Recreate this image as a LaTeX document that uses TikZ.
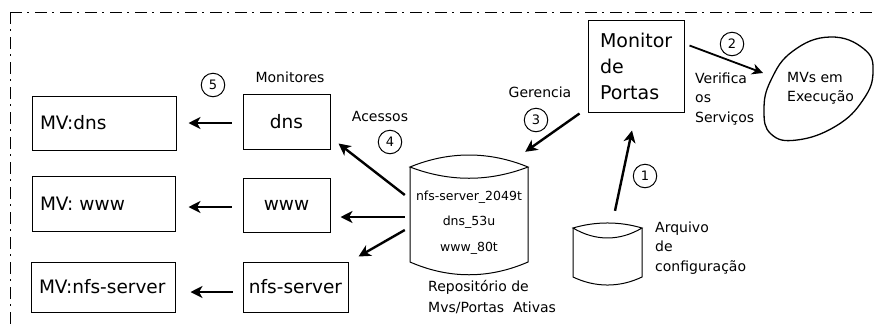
\documentclass[tikz,border=0pt]{standalone}
\usepackage{fontspec}
\setmainfont{DejaVu Sans}
\usetikzlibrary{arrows.meta,calc,shapes.geometric}

\begin{document}
\begin{tikzpicture}[x=1pt,y=-1pt,
  box/.style={draw, line width=1pt, inner sep=0pt},
  big/.style={font=\fontsize{18.5}{22}\selectfont},
  lbl/.style={font=\fontsize{14}{19.5}\selectfont, inner sep=0pt},
  link/.style={line width=2.4pt, -{Stealth[length=12pt,width=12pt,inset=3.5pt]}},
  thinlink/.style={line width=1.8pt, -{Stealth[length=11pt,width=11pt,inset=3.5pt]}},
  num/.style={draw, circle, line width=1pt, minimum size=23.5pt,
              inner sep=0pt, font=\fontsize{13}{15}\selectfont},
  cyl/.style={line width=1pt},
  frame/.style={line width=1pt, dash pattern=on 12pt off 5pt on 2pt off 6pt}
]
\useasboundingbox (0,0) rectangle (874,325);

% outer dash-dotted frame
\draw[frame] (10,12) -- (880,12);
\draw[frame] (10,12) -- (10,330);

% virtual machines
\node (mvdns) [box, big, minimum height=54, text width=128, inner xsep=8] at (104,123) {MV:dns};
\node (mvwww) [box, big, minimum height=55, text width=127, inner xsep=8] at (103.5,203.5) {MV: www};
\node (mvnfs) [box, big, minimum height=50, text width=128, inner xsep=8] at (103,287) {MV:nfs-server};

% monitors
\node (dns) [box, big, minimum width=87, minimum height=55] at (286.5,121.5) {dns};
\node (www) [box, big, minimum width=87, minimum height=54] at (286.5,205) {www};
\node (nfs) [box, big, minimum width=105, minimum height=50] at (295.5,287) {nfs-server};
\node (monlbl) [lbl] at (290,77) {Monitores};

% port monitor
\node (mon) [box, font=\fontsize{19}{26}\selectfont, minimum height=92, text width=72,
             inner xsep=12, align=left] at (636,66) {Monitor\\de\\Portas};

% running VMs (blob)
\node (mvs) [lbl, anchor=west, align=left] at (787,88) {MVs em\\Execução};
\draw[line width=1.3pt] plot[smooth cycle, tension=0.75] coordinates
  {(830,37) (864,49) (873,72) (863,100) (836,126) (797,140) (771,134) (764,110) (771,80) (793,51)};

% repository of active ports
\node (repo) [minimum width=118, minimum height=120, inner sep=0pt] at (469,215) {};
\begin{scope}[shift={(repo.center)}]
  \draw[cyl] (-59,-48) .. controls (-20,-64) and (20,-64) .. (59,-48)
             .. controls (20,-33) and (-20,-33) .. (-59,-48) -- cycle;
  \draw[cyl] (-59,-48) -- (-59,47) .. controls (-20,64) and (20,64) .. (59,47) -- (59,-48);
\end{scope}
\node (ports) [font=\fontsize{12.5}{25.5}\selectfont, align=center, inner sep=0pt]
  at (469,222.5) {nfs-server\_2049t\\dns\_53u\\www\_80t};
\node (repolbl) [lbl, anchor=west, align=left, font=\fontsize{14}{21}\selectfont]
  at (428,297.5) {Repositório de\\Mvs/Portas\ \ Ativas};

% configuration file
\node (arq) [minimum width=69, minimum height=62, inner sep=0pt] at (607.5,254) {};
\begin{scope}[shift={(arq.center)}]
  \draw[cyl] (-34.5,-26) .. controls (-12,-32.7) and (12,-32.7) .. (34.5,-26)
             .. controls (12,-12.7) and (-12,-12.7) .. (-34.5,-26) -- cycle;
  \draw[cyl] (-34.5,-26) -- (-34.5,23) .. controls (-12,33.7) and (12,33.7) .. (34.5,23) -- (34.5,-26);
\end{scope}
\node (arqlbl) [lbl, anchor=west, align=left] at (655,248) {Arquivo\\de\\configuração};

% connector labels
\node (verif) [lbl, anchor=west, align=left] at (695,99) {Verifica\\os\\Serviços};
\node (ger) [lbl] at (540,92) {Gerencia};
\node (ace) [lbl] at (380,116) {Acessos};

% step numbers
\node (n1) [num] at (645,176) {1};
\node (n2) [num] at (732,44) {2};
\node (n3) [num] at (536,120) {3};
\node (n4) [num] at (390,142) {4};
\node (n5) [num] at (213,85) {5};

% connectors
\draw[link] ($(arq.north)+(7.5,-12)$) -- ($(mon.south)+(-4,18)$);
\draw[thinlink] ($(mon.north east)+(5,26)$) -- ($(mvs.west)+(-24,-15)$);
\draw[link] ($(mon.south west)+(-8,1)$) -- ($(repo.north east)+(-3,-3)$);
\draw[link] ($(repo.west)+(-5,-20)$) -- ($(dns.south east)+(8,-6)$);
\draw[link] ($(repo.west)+(-5,2)$) -- ($(www.east)+(10,12)$);
\draw[link] ($(repo.west)+(-5,15)$) -- ($(nfs.north east)+(10,-5)$);
\draw[link] ($(dns.west)+(-11,1.5)$) -- ($(mvdns.east)+(12,0)$);
\draw[link] ($(www.west)+(-11,2)$) -- ($(mvwww.east)+(13,3.5)$);
\draw[link] ($(nfs.west)+(-10,5)$) -- ($(mvnfs.east)+(15,5)$);
\end{tikzpicture}
\end{document}
